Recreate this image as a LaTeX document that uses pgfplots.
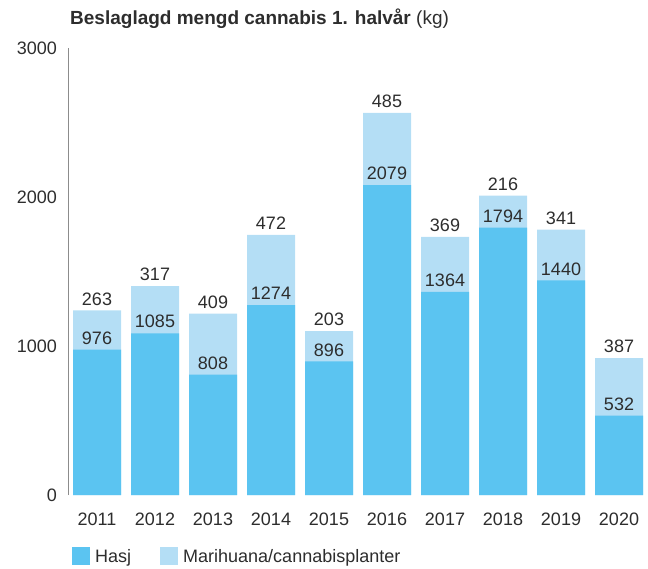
\documentclass[border=0pt]{standalone}
\usepackage{fontspec}
\setmainfont{Liberation Sans}
\usepackage{pgfplots}
\usepackage{pgfplotstable}
\pgfplotsset{compat=1.18}
\definecolor{hasj}{RGB}{91,196,241}
\definecolor{mari}{RGB}{180,222,245}
\definecolor{txt}{RGB}{45,45,45}
\newcommand{\lbl}{\fontsize{18}{21}\selectfont}

% x  hasj  marihuana
\pgfplotstableread{
x h m
0 976 263
1 1085 317
2 808 409
3 1274 472
4 896 203
5 2079 485
6 1364 369
7 1794 216
8 1440 341
9 532 387
}\cannabis

\begin{document}
\begin{tikzpicture}[x=1pt,y=1pt]
\useasboundingbox (0,0) rectangle (648,568);
\node[anchor=base west, text=txt, font=\fontsize{19}{22}\selectfont, inner sep=0pt] at (70,543)
  {\textbf{Beslaglagd mengd cannabis 1. halvår} (kg)};
\begin{axis}[
    at={(68pt,73pt)}, anchor=south west,
    scale only axis, width=580pt, height=447pt,
    ybar, bar shift=0pt, bar width=48pt,
    xmin=-0.5, xmax=9.5, ymin=0, ymax=3000,
    axis x line*=bottom, axis y line*=left,
    x axis line style={draw=none},
    y axis line style={draw=black!45, -},
    axis line style={-},
    xtick={0,...,9},
    xticklabels={2011,2012,2013,2014,2015,2016,2017,2018,2019,2020},
    ytick={0,1000,2000,3000},
    major tick length=0pt,
    tick style={draw=none},
    /pgf/number format/assume math mode=true,
    /pgf/number format/1000 sep={},
    ticklabel style={font=\lbl, text=txt},
    yticklabel style={anchor=east, inner sep=0pt, xshift=-11pt},
    xticklabel style={anchor=north, inner sep=0pt, yshift=-18pt},
    point meta=explicit,
    nodes near coords,
    nodes near coords style={font=\lbl, text=txt, inner sep=5pt},
    legend columns=2,
    legend cell align=left,
    legend style={at={(0,0)}, anchor=north west, draw=none, fill=none,
        xshift=1pt, yshift=-50pt, font=\lbl, text=txt,
        /tikz/every even column/.append style={column sep=27pt},
        /tikz/every odd column/.append style={column sep=3pt}},
    legend image code/.code={\fill[#1] (0pt,-9pt) rectangle (18pt,9pt);},
]
% light bar: full stack height, label = marihuana share
\addplot[fill=mari, draw=none, forget plot]
    table[x=x, y expr=\thisrow{h}+\thisrow{m}, meta=m] {\cannabis};
\addplot[fill=hasj, draw=none] table[x=x, y=h, meta=h] {\cannabis};
\addlegendentry{Hasj}
\addlegendimage{fill=mari, draw=none}
\addlegendentry{Marihuana/cannabisplanter}
\end{axis}
\end{tikzpicture}
\end{document}
